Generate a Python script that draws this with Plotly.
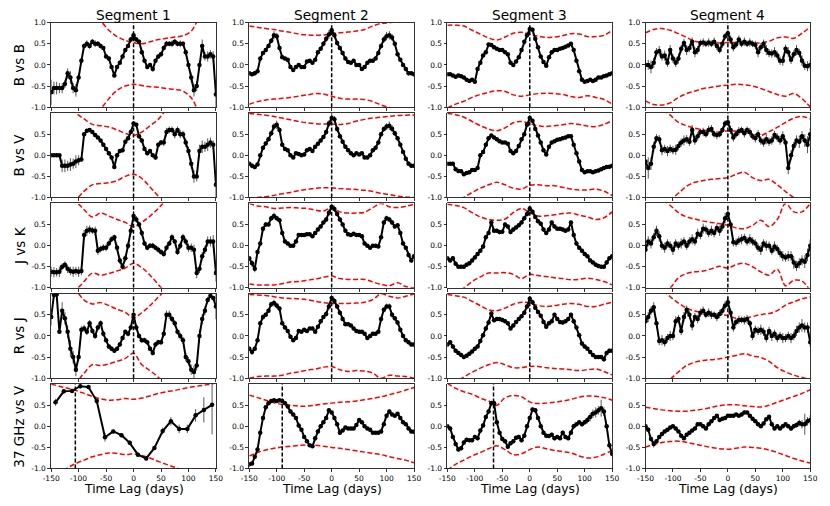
import plotly.graph_objects as go

# ---------------- data ----------------
LAGS = list(range(-150, 151, 5))
LAGS_37GHZ_S1 = [-142, -127, -112, -97, -82, -67, -52, -37, -22, -7,
                 8, 23, 38, 53, 68, 83, 98, 113, 128, 143]
BAND_LAGS = list(range(-150, 151, 15))

SEGMENTS = ["Segment 1", "Segment 2", "Segment 3", "Segment 4"]
PAIRS = ["B vs B", "B vs V", "J vs K", "R vs J", "37 GHz vs V"]
X_TICKS = [-150, -100, -50, 0, 50, 100, 150]
X_TICK_LABELS = ["-150", "-100", "-50", "0", "50", "100", "150"]
Y_TICKS = [-1.0, -0.5, 0.0, 0.5, 1.0]
Y_TICK_LABELS = ["-1.0", "-0.5", "0.0", "0.5", "1.0"]
PEAK_LAGS = [[0, 0, 0, 0], [0, 0, 0, 0], [0, 0, 0, 0], [0, 0, 0, 0], [-106, -90, -66, None]]

# ---- Segment 1 ----
BB_S1 = [-0.65, -0.55, -0.55, -0.55, -0.55, -0.45, -0.2, -0.3, -0.55, -0.6,
         -0.3, 0.1, 0.45, 0.5, 0.45, 0.55, 0.5, 0.5, 0.45, 0.4,
         0.2, 0.15, -0.05, -0.25, -0.05, 0.05, 0.2, 0.35, 0.45, 0.6,
         0.7, 0.6, 0.55, 0.3, 0.1, -0.05, 0.0, -0.1, 0.1, 0.2,
         0.25, 0.4, 0.5, 0.5, 0.5, 0.55, 0.5, 0.5, 0.5, 0.3,
         0.0, -0.3, -0.6, -0.5, 0.0, 0.45, 0.2, 0.2, 0.25, 0.2,
         -0.7]
BB_S1_ERR = [0.3, 0.15, 0.15, 0.12, 0.12, 0.1, 0.12, 0.15, 0.12, 0.15,
             0.1, 0.06, 0.06, 0.08, 0.07, 0.06, 0.08, 0.06, 0.06, 0.05,
             0.05, 0.06, 0.05, 0.05, 0.05, 0.04, 0.05, 0.05, 0.05, 0.06,
             0.08, 0.06, 0.05, 0.05, 0.05, 0.05, 0.05, 0.06, 0.05, 0.05,
             0.06, 0.06, 0.07, 0.06, 0.08, 0.07, 0.06, 0.08, 0.06, 0.07,
             0.1, 0.12, 0.15, 0.12, 0.1, 0.15, 0.1, 0.12, 0.1, 0.12,
             0.35]
BB_S1_UP = [2.0, 1.8, 1.6, 1.4, 1.25, 1.12, 1.03, 0.82, 0.67, 0.58, 0.53,
            0.5, 0.55, 0.6, 0.63, 0.66, 0.69, 0.8, 1.15, 1.5, 1.8]
BB_S1_LO = [-2.0, -1.8, -1.6, -1.4, -1.25, -1.12, -1.03, -0.8, -0.6, -0.5, -0.46,
            -0.49, -0.52, -0.53, -0.56, -0.58, -0.62, -0.78, -1.15, -1.5, -1.8]

BV_S1 = [0.0, 0.0, 0.0, 0.0, -0.25, -0.25, -0.25, -0.22, -0.2, -0.15,
         -0.12, -0.1, 0.5, 0.58, 0.6, 0.55, 0.48, 0.42, 0.35, 0.25,
         0.15, 0.05, -0.05, -0.28, 0.0, 0.1, 0.12, 0.32, 0.4, 0.55,
         0.75, 0.72, 0.45, 0.35, 0.15, 0.05, 0.1, 0.0, -0.05, 0.25,
         0.3, 0.3, 0.55, 0.6, 0.6, 0.5, 0.6, 0.5, 0.5, 0.3,
         0.1, -0.2, -0.5, -0.5, 0.1, 0.2, 0.2, 0.25, 0.3, 0.25,
         -0.7]
BV_S1_ERR = [0.03, 0.03, 0.03, 0.03, 0.15, 0.15, 0.12, 0.15, 0.12, 0.15,
             0.12, 0.05, 0.05, 0.04, 0.04, 0.05, 0.04, 0.04, 0.04, 0.05,
             0.05, 0.05, 0.05, 0.04, 0.05, 0.05, 0.05, 0.05, 0.05, 0.06,
             0.06, 0.05, 0.05, 0.05, 0.05, 0.05, 0.05, 0.05, 0.05, 0.05,
             0.06, 0.08, 0.1, 0.08, 0.08, 0.1, 0.08, 0.1, 0.08, 0.1,
             0.1, 0.12, 0.15, 0.12, 0.15, 0.15, 0.12, 0.15, 0.12, 0.1,
             0.3]
BV_S1_UP = [1.6, 1.4, 1.2, 1.0, 0.86, 0.73, 0.7, 0.67, 0.6, 0.52, 0.47,
            0.55, 0.7, 0.85, 1.1, 1.4, 1.7, 2.0, 2.2, 2.4, 2.6]
BV_S1_LO = [-1.6, -1.4, -1.2, -1.05, -0.85, -0.7, -0.67, -0.65, -0.6, -0.5, -0.45,
            -0.55, -0.75, -0.97, -1.2, -1.45, -1.7, -2.0, -2.2, -2.4, -2.6]

JK_S1 = [-0.62, -0.63, -0.63, -0.62, -0.5, -0.45, -0.55, -0.6, -0.62, -0.6,
         -0.62, -0.6, 0.25, 0.35, 0.38, 0.36, 0.35, -0.12, -0.08, -0.05,
         -0.05, 0.05, 0.15, 0.2, -0.05, -0.35, -0.5, -0.3, 0.0, 0.35,
         0.7, 0.62, 0.5, 0.3, 0.05, -0.05, 0.0, 0.0, -0.05, -0.1,
         -0.15, -0.2, -0.05, 0.05, 0.2, 0.1, -0.15, 0.0, 0.2, 0.1,
         -0.05, -0.05, -0.1, -0.65, -0.55, -0.25, -0.1, 0.1, 0.1, 0.1,
         -0.65]
JK_S1_ERR = [0.12, 0.12, 0.1, 0.12, 0.08, 0.08, 0.1, 0.1, 0.12, 0.1,
             0.12, 0.1, 0.12, 0.12, 0.1, 0.08, 0.1, 0.1, 0.08, 0.08,
             0.08, 0.07, 0.07, 0.06, 0.08, 0.08, 0.07, 0.08, 0.08, 0.1,
             0.12, 0.08, 0.07, 0.07, 0.06, 0.06, 0.06, 0.07, 0.06, 0.07,
             0.06, 0.06, 0.07, 0.06, 0.07, 0.06, 0.07, 0.08, 0.08, 0.08,
             0.1, 0.1, 0.12, 0.12, 0.1, 0.1, 0.1, 0.12, 0.12, 0.15,
             0.2]
JK_S1_UP = [1.6, 1.4, 1.2, 1.05, 0.85, 0.68, 0.77, 0.7, 0.62, 0.55, 0.45,
            0.55, 0.7, 0.88, 1.1, 1.4, 1.7, 2.0, 2.2, 2.4, 2.6]
JK_S1_LO = [-1.6, -1.4, -1.2, -1.05, -0.85, -0.65, -0.7, -0.66, -0.6, -0.53, -0.42,
            -0.52, -0.7, -0.92, -1.15, -1.4, -1.7, -2.0, -2.2, -2.4, -2.6]

RJ_S1 = [0.45, 0.97, 0.98, 0.1, 0.6, 0.42, 0.1, -0.3, -0.5, -0.8,
         -0.5, 0.15, 0.18, 0.1, 0.3, 0.12, 0.0, 0.2, 0.3, 0.05,
         -0.1, -0.25, -0.3, -0.35, -0.3, -0.2, -0.05, 0.1, 0.05, 0.2,
         0.5, 0.2, 0.0, -0.1, -0.1, -0.15, -0.3, -0.4, -0.2, -0.15,
         -0.15, 0.05, 0.5, 0.5, 0.4, 0.3, 0.1, 0.0, -0.1, -0.5,
         -0.6, -0.8, -0.85, -0.7, 0.0, 0.4, 0.6, 0.85, 0.95, 0.9,
         0.7]
RJ_S1_ERR = [0.2, 0.1, 0.05, 0.05, 0.2, 0.15, 0.15, 0.2, 0.15, 0.15,
             0.1, 0.08, 0.08, 0.08, 0.08, 0.07, 0.07, 0.07, 0.07, 0.06,
             0.06, 0.06, 0.06, 0.05, 0.05, 0.05, 0.05, 0.05, 0.06, 0.06,
             0.08, 0.07, 0.06, 0.06, 0.06, 0.06, 0.06, 0.06, 0.06, 0.06,
             0.06, 0.08, 0.1, 0.1, 0.08, 0.08, 0.07, 0.08, 0.08, 0.1,
             0.1, 0.12, 0.15, 0.12, 0.15, 0.12, 0.1, 0.08, 0.05, 0.05,
             0.3]
RJ_S1_UP = [1.6, 1.4, 1.2, 1.08, 0.85, 0.76, 0.79, 0.72, 0.63, 0.56, 0.43,
            0.55, 0.72, 0.92, 1.12, 1.4, 1.7, 2.0, 2.2, 2.4, 2.6]
RJ_S1_LO = [-1.6, -1.4, -1.25, -1.1, -0.88, -0.68, -0.7, -0.66, -0.6, -0.53, -0.41,
            -0.68, -0.82, -0.98, -1.2, -1.45, -1.7, -2.0, -2.2, -2.4, -2.6]

GHZ37_S1 = [0.57, 0.83, 0.84, 0.95, 0.93, 0.6, -0.26, -0.12, -0.21, -0.39,
            -0.67, -0.76, -0.51, -0.11, 0.12, -0.06, -0.06, 0.26, 0.39, 0.51]
GHZ37_S1_ERR = [0.08, 0.05, 0.05, 0.05, 0.05, 0.05, 0.1, 0.05, 0.05, 0.05,
                0.05, 0.05, 0.05, 0.08, 0.1, 0.1, 0.1, 0.15, 0.3, 0.7]
GHZ37_S1_UP = [1.0, 0.95, 0.9, 0.85, 0.78, 0.71, 0.65, 0.62, 0.63, 0.66, 0.64,
               0.67, 0.72, 0.78, 0.82, 0.85, 0.89, 0.93, 0.96, 0.99, 1.03]
GHZ37_S1_LO = [-1.25, -1.12, -0.98, -0.88, -0.8, -0.72, -0.67, -0.63, -0.64, -0.67, -0.65,
               -0.69, -0.75, -0.83, -0.9, -0.97, -1.05, -1.12, -1.2, -1.28, -1.35]

# ---- Segment 2 ----
BB_S2 = [-0.2, -0.22, -0.2, -0.15, 0.15, 0.28, 0.35, 0.45, 0.57, 0.7,
         0.68, 0.4, 0.18, 0.15, 0.12, -0.05, -0.12, -0.05, 0.0, -0.05,
         -0.05, 0.08, 0.1, 0.05, 0.12, 0.3, 0.38, 0.5, 0.62, 0.72,
         0.82, 0.7, 0.52, 0.4, 0.28, 0.15, 0.07, 0.05, 0.1, 0.0,
         0.0, -0.1, -0.05, 0.05, 0.1, 0.1, 0.15, 0.28, 0.45, 0.6,
         0.68, 0.7, 0.65, 0.5, 0.25, 0.12, 0.0, -0.1, -0.2, -0.2,
         -0.22]
BB_S2_ERR = [0.05, 0.05, 0.05, 0.04, 0.04, 0.04, 0.05, 0.05, 0.06, 0.1,
             0.08, 0.05, 0.04, 0.04, 0.04, 0.04, 0.04, 0.04, 0.04, 0.04,
             0.04, 0.04, 0.04, 0.04, 0.04, 0.05, 0.05, 0.06, 0.08, 0.1,
             0.1, 0.08, 0.06, 0.05, 0.04, 0.04, 0.04, 0.04, 0.04, 0.04,
             0.04, 0.04, 0.04, 0.04, 0.04, 0.04, 0.04, 0.05, 0.06, 0.08,
             0.1, 0.1, 0.08, 0.05, 0.04, 0.04, 0.04, 0.05, 0.05, 0.05,
             0.05]
BB_S2_UP = [0.92, 0.89, 0.86, 0.84, 0.8, 0.77, 0.73, 0.71, 0.7, 0.71, 0.74,
            0.76, 0.78, 0.8, 0.84, 0.92, 0.98, 1.0, 1.02, 1.02, 1.02]
BB_S2_LO = [-0.93, -0.87, -0.83, -0.81, -0.79, -0.77, -0.74, -0.71, -0.68, -0.69, -0.74,
            -0.79, -0.81, -0.81, -0.82, -0.87, -0.95, -1.01, -1.06, -1.1, -1.15]

BV_S2 = [-0.2, -0.25, -0.28, -0.22, 0.0, 0.18, 0.28, 0.38, 0.52, 0.68,
         0.72, 0.6, 0.25, 0.15, 0.12, 0.0, -0.05, 0.05, 0.03, 0.0,
         0.02, 0.12, 0.15, 0.1, 0.2, 0.27, 0.35, 0.43, 0.55, 0.75,
         0.88, 0.85, 0.62, 0.45, 0.32, 0.2, 0.12, 0.05, 0.0, 0.05,
         0.02, 0.05, -0.05, -0.05, 0.0, 0.12, 0.18, 0.3, 0.5, 0.62,
         0.68, 0.7, 0.63, 0.52, 0.4, 0.25, 0.08, -0.08, -0.2, -0.25,
         -0.25]
BV_S2_ERR = [0.05, 0.06, 0.05, 0.04, 0.04, 0.04, 0.05, 0.05, 0.06, 0.08,
             0.1, 0.06, 0.04, 0.04, 0.04, 0.04, 0.04, 0.04, 0.04, 0.04,
             0.04, 0.04, 0.04, 0.04, 0.04, 0.04, 0.05, 0.05, 0.06, 0.08,
             0.1, 0.08, 0.06, 0.05, 0.04, 0.04, 0.04, 0.04, 0.04, 0.04,
             0.04, 0.04, 0.04, 0.04, 0.04, 0.04, 0.04, 0.04, 0.05, 0.06,
             0.08, 0.1, 0.08, 0.06, 0.05, 0.04, 0.04, 0.05, 0.05, 0.05,
             0.05]
BV_S2_UP = [0.99, 0.97, 0.95, 0.92, 0.88, 0.84, 0.8, 0.77, 0.75, 0.74, 0.74,
            0.73, 0.75, 0.81, 0.85, 0.88, 0.9, 0.92, 0.94, 0.95, 0.95]
BV_S2_LO = [-1.01, -1.0, -0.98, -0.95, -0.91, -0.88, -0.84, -0.81, -0.78, -0.77, -0.77,
            -0.79, -0.8, -0.81, -0.83, -0.86, -0.9, -0.93, -0.97, -0.99, -1.0]

JK_S2 = [-0.3, -0.42, -0.55, -0.15, 0.05, 0.4, 0.5, 0.5, 0.65, 0.7,
         0.65, 0.6, 0.3, 0.1, 0.05, 0.0, 0.0, 0.1, 0.25, 0.25,
         0.25, 0.27, 0.27, 0.22, 0.3, 0.38, 0.45, 0.55, 0.62, 0.78,
         0.92, 0.87, 0.75, 0.62, 0.5, 0.35, 0.27, 0.25, 0.28, 0.25,
         0.25, 0.22, 0.05, 0.0, -0.05, 0.0, 0.0, -0.02, 0.2, 0.55,
         0.65, 0.62, 0.55, 0.45, 0.48, 0.3, 0.05, -0.05, -0.22, -0.35,
         -0.25]
JK_S2_ERR = [0.06, 0.08, 0.08, 0.06, 0.05, 0.06, 0.06, 0.05, 0.06, 0.08,
             0.06, 0.06, 0.05, 0.04, 0.04, 0.04, 0.04, 0.04, 0.04, 0.04,
             0.04, 0.04, 0.04, 0.04, 0.04, 0.04, 0.05, 0.05, 0.06, 0.08,
             0.08, 0.08, 0.06, 0.05, 0.04, 0.04, 0.04, 0.04, 0.04, 0.04,
             0.04, 0.04, 0.04, 0.04, 0.04, 0.04, 0.04, 0.04, 0.05, 0.06,
             0.06, 0.06, 0.06, 0.05, 0.05, 0.05, 0.04, 0.04, 0.06, 0.06,
             0.06]
JK_S2_UP = [1.0, 0.94, 0.92, 0.88, 0.89, 0.9, 0.89, 0.88, 0.84, 0.82, 0.9,
            0.8, 0.77, 0.77, 0.79, 0.9, 1.0, 0.92, 0.9, 0.93, 0.98]
JK_S2_LO = [-0.91, -0.93, -0.93, -0.93, -0.9, -0.86, -0.85, -0.82, -0.79, -0.75, -0.72,
            -0.78, -0.8, -0.8, -0.8, -0.86, -0.92, -0.95, -0.88, -0.97, -1.0]

RJ_S2 = [-0.3, -0.38, -0.3, -0.1, 0.3, 0.45, 0.5, 0.6, 0.75, 0.78,
         0.72, 0.65, 0.3, 0.2, 0.12, -0.02, -0.1, -0.05, 0.12, 0.1,
         0.15, 0.12, 0.18, 0.18, 0.1, 0.22, 0.35, 0.45, 0.52, 0.7,
         0.9, 0.83, 0.7, 0.55, 0.4, 0.28, 0.28, 0.25, 0.18, 0.12,
         0.1, 0.1, 0.05, -0.05, 0.0, 0.05, 0.05, 0.1, 0.4, 0.62,
         0.7, 0.7, 0.5, 0.42, 0.32, 0.15, 0.0, -0.1, -0.15, -0.2,
         -0.2]
RJ_S2_ERR = [0.06, 0.07, 0.06, 0.05, 0.05, 0.06, 0.05, 0.05, 0.06, 0.08,
             0.07, 0.06, 0.05, 0.04, 0.04, 0.04, 0.04, 0.04, 0.04, 0.04,
             0.04, 0.04, 0.04, 0.04, 0.04, 0.04, 0.05, 0.05, 0.06, 0.08,
             0.08, 0.07, 0.06, 0.05, 0.04, 0.04, 0.04, 0.04, 0.04, 0.04,
             0.04, 0.04, 0.04, 0.04, 0.04, 0.04, 0.04, 0.05, 0.05, 0.06,
             0.07, 0.07, 0.06, 0.05, 0.05, 0.05, 0.04, 0.04, 0.05, 0.05,
             0.06]
RJ_S2_UP = [0.98, 0.97, 0.96, 0.93, 0.9, 0.89, 0.88, 0.86, 0.82, 0.79, 0.77,
            0.77, 0.77, 0.78, 0.8, 0.86, 1.0, 0.94, 0.9, 0.94, 1.0]
RJ_S2_LO = [-1.0, -0.96, -0.95, -0.95, -0.93, -0.88, -0.85, -0.81, -0.78, -0.74, -0.72,
            -0.8, -0.84, -0.82, -0.83, -0.88, -1.0, -0.93, -0.95, -0.96, -1.0]

GHZ37_S2 = [-0.9, -0.88, -0.72, -0.55, -0.15, 0.2, 0.45, 0.55, 0.6, 0.62,
            0.6, 0.62, 0.6, 0.55, 0.47, 0.35, 0.28, 0.2, 0.02, -0.08,
            -0.25, -0.35, -0.45, -0.47, -0.28, -0.12, 0.0, 0.1, 0.2, 0.38,
            0.33, 0.2, 0.05, -0.15, -0.1, -0.03, -0.05, -0.05, -0.05, 0.03,
            0.15, 0.1, 0.0, -0.05, -0.08, -0.15, -0.15, -0.15, -0.12, 0.05,
            0.25, 0.35, 0.28, 0.25, 0.3, 0.2, 0.1, 0.05, -0.05, -0.12,
            -0.13]
GHZ37_S2_ERR = [0.06, 0.05, 0.05, 0.05, 0.04, 0.04, 0.04, 0.04, 0.04, 0.04,
                0.04, 0.04, 0.04, 0.04, 0.04, 0.04, 0.04, 0.04, 0.04, 0.04,
                0.04, 0.04, 0.04, 0.04, 0.04, 0.04, 0.04, 0.04, 0.04, 0.05,
                0.05, 0.04, 0.04, 0.04, 0.04, 0.04, 0.04, 0.04, 0.04, 0.04,
                0.04, 0.04, 0.04, 0.04, 0.04, 0.04, 0.04, 0.04, 0.04, 0.04,
                0.05, 0.05, 0.04, 0.04, 0.04, 0.04, 0.04, 0.04, 0.04, 0.05,
                0.05]
GHZ37_S2_UP = [0.74, 0.68, 0.62, 0.56, 0.52, 0.5, 0.48, 0.48, 0.5, 0.53, 0.55,
               0.57, 0.58, 0.6, 0.63, 0.66, 0.7, 0.75, 0.8, 0.86, 0.92]
GHZ37_S2_LO = [-0.7, -0.62, -0.56, -0.52, -0.49, -0.47, -0.45, -0.44, -0.45, -0.47, -0.5,
               -0.52, -0.55, -0.58, -0.61, -0.64, -0.67, -0.72, -0.76, -0.8, -0.86]

# ---- Segment 3 ----
BB_S3 = [-0.22, -0.22, -0.25, -0.28, -0.25, -0.27, -0.3, -0.35, -0.38, -0.35,
         -0.4, -0.1, 0.05, 0.22, 0.3, 0.48, 0.47, 0.42, 0.38, 0.35,
         0.35, 0.3, 0.25, 0.05, 0.0, 0.08, 0.18, 0.35, 0.55, 0.7,
         0.85, 0.83, 0.62, 0.42, 0.2, 0.07, -0.02, 0.18, 0.3, 0.35,
         0.35, 0.38, 0.4, 0.43, 0.46, 0.5, 0.35, 0.1, -0.15, -0.35,
         -0.4, -0.38, -0.35, -0.38, -0.35, -0.3, -0.3, -0.27, -0.25, -0.22,
         -0.2]
BB_S3_ERR = [0.03, 0.03, 0.03, 0.03, 0.03, 0.03, 0.03, 0.03, 0.03, 0.03,
             0.03, 0.03, 0.03, 0.03, 0.03, 0.04, 0.03, 0.03, 0.03, 0.03,
             0.03, 0.03, 0.03, 0.03, 0.03, 0.03, 0.03, 0.03, 0.04, 0.05,
             0.06, 0.05, 0.04, 0.03, 0.03, 0.03, 0.03, 0.03, 0.03, 0.03,
             0.03, 0.03, 0.03, 0.03, 0.03, 0.04, 0.03, 0.03, 0.03, 0.03,
             0.03, 0.03, 0.03, 0.03, 0.03, 0.03, 0.03, 0.03, 0.03, 0.03,
             0.03]
BB_S3_UP = [0.94, 0.94, 0.92, 0.82, 0.73, 0.64, 0.59, 0.66, 0.75, 0.77, 0.73,
            0.68, 0.65, 0.66, 0.69, 0.74, 0.73, 0.67, 0.67, 0.7, 0.82]
BB_S3_LO = [-1.02, -0.93, -0.86, -0.77, -0.7, -0.65, -0.61, -0.63, -0.71, -0.74, -0.71,
            -0.68, -0.67, -0.68, -0.7, -0.75, -0.77, -0.73, -0.77, -0.82, -0.93]

BV_S3 = [-0.2, -0.2, -0.2, -0.33, -0.37, -0.38, -0.45, -0.42, -0.4, -0.35,
         -0.35, -0.3, 0.0, 0.08, 0.25, 0.4, 0.47, 0.42, 0.38, 0.33,
         0.3, 0.3, 0.27, 0.1, 0.05, 0.1, 0.22, 0.38, 0.5, 0.72,
         0.88, 0.82, 0.62, 0.47, 0.3, 0.12, 0.02, 0.2, 0.3, 0.33,
         0.37, 0.38, 0.4, 0.42, 0.45, 0.45, 0.25, 0.05, -0.15, -0.35,
         -0.4, -0.38, -0.38, -0.4, -0.38, -0.36, -0.33, -0.3, -0.28, -0.27,
         -0.25]
BV_S3_ERR = [0.03, 0.03, 0.03, 0.03, 0.03, 0.03, 0.03, 0.03, 0.03, 0.03,
             0.03, 0.03, 0.03, 0.03, 0.03, 0.04, 0.03, 0.03, 0.03, 0.03,
             0.03, 0.03, 0.03, 0.03, 0.03, 0.03, 0.03, 0.03, 0.04, 0.05,
             0.06, 0.05, 0.04, 0.03, 0.03, 0.03, 0.03, 0.03, 0.03, 0.03,
             0.03, 0.03, 0.03, 0.03, 0.03, 0.04, 0.03, 0.03, 0.03, 0.03,
             0.03, 0.03, 0.03, 0.03, 0.03, 0.03, 0.03, 0.03, 0.03, 0.03,
             0.03]
BV_S3_UP = [0.99, 0.96, 0.9, 0.8, 0.7, 0.62, 0.58, 0.65, 0.77, 0.8, 0.75,
            0.7, 0.68, 0.7, 0.72, 0.75, 0.73, 0.69, 0.68, 0.73, 0.82]
BV_S3_LO = [-1.2, -1.1, -1.0, -0.88, -0.78, -0.7, -0.64, -0.7, -0.78, -0.8, -0.71,
            -0.7, -0.72, -0.72, -0.76, -0.8, -0.82, -0.82, -0.8, -0.85, -0.95]

JK_S3 = [-0.3, -0.35, -0.3, -0.43, -0.5, -0.5, -0.5, -0.45, -0.42, -0.35,
         -0.28, -0.2, -0.12, -0.02, 0.2, 0.3, 0.55, 0.35, 0.35, 0.32,
         0.33, 0.5, 0.45, 0.32, 0.38, 0.43, 0.48, 0.55, 0.65, 0.75,
         0.88, 0.8, 0.68, 0.58, 0.52, 0.38, 0.3, 0.38, 0.55, 0.45,
         0.4, 0.4, 0.38, 0.35, 0.38, 0.55, 0.25, 0.05, -0.05, -0.12,
         -0.2, -0.25, -0.35, -0.4, -0.45, -0.48, -0.5, -0.5, -0.4, -0.3,
         -0.25]
JK_S3_ERR = [0.05, 0.05, 0.05, 0.05, 0.05, 0.05, 0.05, 0.05, 0.05, 0.05,
             0.05, 0.05, 0.05, 0.05, 0.05, 0.05, 0.06, 0.05, 0.05, 0.05,
             0.05, 0.05, 0.05, 0.05, 0.05, 0.05, 0.05, 0.05, 0.05, 0.06,
             0.06, 0.06, 0.05, 0.05, 0.05, 0.05, 0.05, 0.05, 0.05, 0.05,
             0.05, 0.05, 0.05, 0.05, 0.05, 0.05, 0.05, 0.05, 0.05, 0.05,
             0.05, 0.05, 0.05, 0.05, 0.05, 0.05, 0.05, 0.05, 0.05, 0.05,
             0.05]
JK_S3_UP = [0.98, 0.95, 0.9, 0.78, 0.68, 0.62, 0.6, 0.63, 0.78, 0.88, 0.78,
            0.7, 0.71, 0.73, 0.76, 0.77, 0.72, 0.68, 0.62, 0.66, 0.8]
JK_S3_LO = [-1.2, -1.1, -1.0, -0.85, -0.74, -0.65, -0.65, -0.64, -0.68, -0.78, -0.68,
            -0.71, -0.73, -0.76, -0.78, -0.81, -0.8, -0.77, -0.8, -0.85, -0.93]

RJ_S3 = [-0.2, -0.15, -0.25, -0.35, -0.4, -0.45, -0.5, -0.47, -0.42, -0.37,
         -0.3, -0.25, -0.12, 0.02, 0.18, 0.32, 0.53, 0.37, 0.4, 0.4,
         0.38, 0.35, 0.3, 0.18, 0.25, 0.33, 0.4, 0.47, 0.55, 0.7,
         0.88, 0.8, 0.67, 0.57, 0.48, 0.33, 0.22, 0.3, 0.35, 0.5,
         0.4, 0.33, 0.32, 0.35, 0.4, 0.5, 0.35, 0.2, 0.02, -0.18,
         -0.25, -0.3, -0.38, -0.45, -0.5, -0.5, -0.5, -0.55, -0.4, -0.35,
         -0.35]
RJ_S3_ERR = [0.05, 0.05, 0.05, 0.05, 0.05, 0.05, 0.05, 0.05, 0.05, 0.05,
             0.05, 0.05, 0.05, 0.05, 0.05, 0.05, 0.06, 0.05, 0.05, 0.05,
             0.05, 0.05, 0.05, 0.05, 0.05, 0.05, 0.05, 0.05, 0.05, 0.06,
             0.06, 0.06, 0.05, 0.05, 0.05, 0.05, 0.05, 0.05, 0.05, 0.05,
             0.05, 0.05, 0.05, 0.05, 0.05, 0.05, 0.05, 0.05, 0.05, 0.05,
             0.05, 0.05, 0.05, 0.05, 0.05, 0.05, 0.05, 0.06, 0.05, 0.05,
             0.05]
RJ_S3_UP = [0.98, 0.95, 0.92, 0.82, 0.72, 0.62, 0.6, 0.66, 0.75, 0.8, 0.78,
            0.72, 0.7, 0.72, 0.75, 0.77, 0.75, 0.7, 0.7, 0.75, 0.8]
RJ_S3_LO = [-1.25, -1.1, -0.97, -0.86, -0.76, -0.68, -0.63, -0.68, -0.75, -0.75, -0.72,
            -0.72, -0.75, -0.77, -0.78, -0.8, -0.82, -0.8, -0.78, -0.84, -0.92]

GHZ37_S3 = [0.0, -0.05, -0.25, -0.42, -0.55, -0.52, -0.38, -0.32, -0.33, -0.33,
            -0.25, -0.28, -0.1, 0.02, 0.22, 0.35, 0.55, 0.55, 0.1, -0.15,
            -0.3, -0.35, -0.48, -0.4, -0.35, -0.27, -0.25, -0.33, -0.22, 0.0,
            0.2, 0.4, 0.38, 0.2, 0.0, -0.15, -0.22, -0.23, -0.2, -0.28,
            -0.25, -0.28, -0.15, -0.25, -0.28, -0.15, 0.0, 0.05, 0.1, 0.05,
            0.1, 0.15, 0.22, 0.3, 0.33, 0.38, 0.43, 0.35, 0.0, -0.45,
            -0.65]
GHZ37_S3_ERR = [0.05, 0.05, 0.05, 0.05, 0.05, 0.05, 0.05, 0.05, 0.05, 0.05,
                0.05, 0.05, 0.05, 0.05, 0.05, 0.05, 0.06, 0.06, 0.05, 0.05,
                0.05, 0.05, 0.05, 0.05, 0.05, 0.05, 0.05, 0.05, 0.05, 0.05,
                0.05, 0.05, 0.05, 0.05, 0.05, 0.05, 0.05, 0.05, 0.05, 0.05,
                0.05, 0.05, 0.05, 0.05, 0.05, 0.05, 0.05, 0.05, 0.05, 0.05,
                0.06, 0.08, 0.1, 0.1, 0.12, 0.1, 0.2, 0.1, 0.06, 0.06,
                0.06]
GHZ37_S3_UP = [1.02, 0.9, 0.82, 0.76, 0.67, 0.6, 0.5, 0.68, 0.73, 0.7, 0.58,
               0.54, 0.55, 0.57, 0.6, 0.64, 0.69, 0.72, 0.71, 0.68, 0.62]
GHZ37_S3_LO = [-1.04, -0.9, -0.8, -0.7, -0.62, -0.53, -0.46, -0.55, -0.67, -0.65, -0.55,
               -0.49, -0.53, -0.57, -0.6, -0.63, -0.7, -0.75, -0.73, -0.66, -0.57]

# ---- Segment 4 ----
BB_S4 = [0.0, 0.0, -0.05, 0.05, 0.3, 0.33, 0.2, 0.22, 0.05, 0.35,
         0.15, 0.05, 0.15, 0.38, 0.52, 0.35, 0.4, 0.55, 0.3, 0.35,
         0.52, 0.53, 0.5, 0.53, 0.5, 0.55, 0.45, 0.35, 0.5, 0.68,
         0.75, 0.6, 0.42, 0.48, 0.6, 0.5, 0.55, 0.5, 0.53, 0.5,
         0.47, 0.3, 0.42, 0.5, 0.35, 0.28, 0.27, 0.3, 0.22, 0.1,
         0.1, 0.38, 0.3, 0.12, 0.25, 0.35, 0.28, 0.1, -0.02, -0.03,
         0.0]
BB_S4_ERR = [0.12, 0.12, 0.15, 0.12, 0.1, 0.12, 0.1, 0.12, 0.1, 0.12,
             0.1, 0.1, 0.12, 0.1, 0.1, 0.12, 0.1, 0.1, 0.12, 0.1,
             0.08, 0.1, 0.08, 0.1, 0.08, 0.1, 0.1, 0.08, 0.1, 0.08,
             0.08, 0.1, 0.1, 0.08, 0.1, 0.08, 0.1, 0.08, 0.1, 0.08,
             0.1, 0.12, 0.1, 0.1, 0.12, 0.1, 0.1, 0.12, 0.1, 0.1,
             0.12, 0.1, 0.12, 0.1, 0.1, 0.12, 0.1, 0.12, 0.1, 0.12,
             0.12]
BB_S4_UP = [0.76, 0.84, 0.86, 0.82, 0.74, 0.65, 0.56, 0.53, 0.51, 0.52, 0.53,
            0.53, 0.53, 0.52, 0.52, 0.56, 0.64, 0.66, 0.63, 0.75, 0.9]
BB_S4_LO = [-0.85, -0.94, -0.95, -0.9, -0.77, -0.68, -0.62, -0.56, -0.53, -0.5, -0.48,
            -0.46, -0.47, -0.5, -0.56, -0.63, -0.7, -0.74, -0.68, -0.8, -1.0]

BV_S4 = [-0.15, -0.3, -0.2, 0.2, 0.4, 0.38, 0.12, 0.15, 0.1, 0.15,
         0.12, 0.13, 0.22, 0.3, 0.35, 0.38, 0.32, 0.6, 0.35, 0.45,
         0.55, 0.55, 0.5, 0.6, 0.62, 0.5, 0.48, 0.5, 0.6, 0.75,
         0.78, 0.6, 0.42, 0.5, 0.57, 0.6, 0.52, 0.6, 0.55, 0.45,
         0.4, 0.5, 0.35, 0.3, 0.38, 0.32, 0.35, 0.48, 0.42, 0.35,
         0.45, 0.3, -0.3, 0.0, 0.22, 0.35, 0.32, 0.45, 0.35, 0.25,
         0.5]
BV_S4_ERR = [0.15, 0.25, 0.15, 0.12, 0.1, 0.1, 0.12, 0.1, 0.12, 0.1,
             0.1, 0.12, 0.1, 0.1, 0.12, 0.1, 0.1, 0.12, 0.1, 0.1,
             0.08, 0.1, 0.08, 0.1, 0.1, 0.08, 0.1, 0.08, 0.08, 0.08,
             0.08, 0.1, 0.1, 0.08, 0.1, 0.08, 0.1, 0.08, 0.1, 0.08,
             0.1, 0.1, 0.1, 0.1, 0.12, 0.1, 0.1, 0.1, 0.1, 0.1,
             0.12, 0.1, 0.15, 0.12, 0.1, 0.12, 0.15, 0.12, 0.15, 0.2,
             0.15]
BV_S4_UP = [1.4, 1.25, 1.1, 0.95, 0.78, 0.7, 0.64, 0.6, 0.57, 0.55, 0.58,
            0.57, 0.54, 0.51, 0.47, 0.56, 0.66, 0.78, 0.88, 0.92, 0.86]
BV_S4_LO = [-1.5, -1.35, -1.2, -1.05, -0.9, -0.73, -0.64, -0.6, -0.57, -0.55, -0.53,
            -0.45, -0.4, -0.53, -0.6, -0.57, -0.7, -0.86, -1.0, -1.12, -1.25]

JK_S4 = [-0.1, 0.1, 0.05, 0.2, 0.35, 0.22, 0.0, -0.05, 0.05, 0.0,
         -0.1, 0.05, 0.0, 0.05, 0.1, 0.0, 0.1, 0.15, 0.1, 0.28,
         0.25, 0.4, 0.38, 0.3, 0.35, 0.3, 0.42, 0.35, 0.45, 0.65,
         0.75, 0.5, 0.08, 0.07, 0.12, 0.15, 0.18, 0.1, 0.15, 0.1,
         0.05, -0.05, -0.1, 0.05, 0.0, 0.0, -0.12, -0.02, -0.08, -0.18,
         -0.25, -0.28, -0.25, -0.25, -0.4, -0.48, -0.42, -0.35, -0.38, -0.22,
         0.0]
JK_S4_ERR = [0.2, 0.12, 0.12, 0.1, 0.12, 0.12, 0.1, 0.12, 0.1, 0.1,
             0.12, 0.1, 0.1, 0.12, 0.1, 0.1, 0.1, 0.12, 0.1, 0.12,
             0.1, 0.12, 0.1, 0.1, 0.12, 0.1, 0.1, 0.12, 0.1, 0.12,
             0.12, 0.1, 0.1, 0.1, 0.1, 0.12, 0.1, 0.1, 0.12, 0.1,
             0.1, 0.1, 0.12, 0.1, 0.12, 0.1, 0.1, 0.12, 0.1, 0.1,
             0.12, 0.1, 0.12, 0.12, 0.15, 0.12, 0.12, 0.12, 0.15, 0.15,
             0.15]
JK_S4_UP = [1.4, 1.25, 1.1, 0.95, 0.78, 0.68, 0.63, 0.58, 0.55, 0.52, 0.48,
            0.42, 0.4, 0.48, 0.6, 0.45, 0.62, 1.0, 0.8, 0.8, 1.0]
JK_S4_LO = [-1.4, -1.25, -1.1, -1.0, -0.76, -0.66, -0.62, -0.6, -0.55, -0.49, -0.53,
            -0.45, -0.42, -0.5, -0.62, -0.7, -0.56, -0.95, -0.82, -0.84, -1.07]

RJ_S4 = [0.35, 0.45, 0.6, 0.68, 0.3, -0.12, -0.1, -0.15, -0.05, 0.0,
         0.0, 0.35, 0.4, 0.12, 0.45, 0.62, 0.5, 0.25, 0.45, 0.4,
         0.55, 0.6, 0.5, 0.55, 0.5, 0.5, 0.45, 0.52, 0.6, 0.72,
         0.8, 0.55, 0.2, 0.33, 0.38, 0.38, 0.37, 0.4, 0.3, 0.0,
         0.15, 0.12, 0.15, 0.1, -0.05, 0.12, 0.0, 0.05, -0.05, 0.0,
         -0.05, -0.05, 0.0, -0.05, 0.0, 0.12, 0.2, 0.25, 0.2, 0.2,
         -0.15]
RJ_S4_ERR = [0.12, 0.12, 0.1, 0.12, 0.12, 0.1, 0.12, 0.1, 0.1, 0.12,
             0.1, 0.12, 0.1, 0.1, 0.12, 0.1, 0.1, 0.12, 0.1, 0.1,
             0.1, 0.1, 0.08, 0.1, 0.1, 0.08, 0.1, 0.1, 0.1, 0.1,
             0.12, 0.1, 0.1, 0.08, 0.1, 0.08, 0.1, 0.1, 0.08, 0.1,
             0.1, 0.1, 0.12, 0.1, 0.1, 0.1, 0.12, 0.1, 0.1, 0.1,
             0.12, 0.1, 0.1, 0.12, 0.1, 0.12, 0.12, 0.15, 0.12, 0.12,
             0.12]
RJ_S4_UP = [1.4, 1.25, 1.1, 0.93, 0.78, 0.66, 0.59, 0.56, 0.53, 0.51, 0.48,
            0.42, 0.42, 0.46, 0.51, 0.53, 0.6, 0.73, 0.81, 0.88, 0.92]
RJ_S4_LO = [-1.4, -1.25, -1.12, -1.02, -0.85, -0.7, -0.62, -0.58, -0.56, -0.54, -0.5,
            -0.46, -0.42, -0.47, -0.51, -0.6, -0.75, -0.85, -0.93, -0.98, -1.03]

GHZ37_S4 = [0.0, -0.08, -0.3, -0.42, -0.35, -0.25, -0.18, -0.12, -0.08, -0.03,
            0.0, -0.05, -0.12, -0.22, -0.28, -0.2, -0.15, -0.1, -0.05, 0.05,
            0.05, 0.0, -0.05, 0.05, 0.12, 0.2, 0.25, 0.15, 0.18, 0.2,
            0.25, 0.25, 0.25, 0.28, 0.25, 0.28, 0.33, 0.33, 0.25, 0.18,
            0.12, 0.05, 0.0, 0.07, 0.17, 0.23, 0.05, -0.05, 0.0, -0.05,
            0.0, 0.05, 0.0, -0.05, 0.0, 0.03, 0.08, 0.05, 0.05, 0.12,
            0.15]
GHZ37_S4_ERR = [0.05, 0.06, 0.05, 0.08, 0.05, 0.04, 0.04, 0.04, 0.04, 0.04,
                0.04, 0.04, 0.04, 0.04, 0.04, 0.04, 0.04, 0.04, 0.04, 0.04,
                0.04, 0.04, 0.04, 0.04, 0.04, 0.04, 0.04, 0.04, 0.04, 0.04,
                0.04, 0.04, 0.04, 0.04, 0.04, 0.04, 0.04, 0.04, 0.04, 0.04,
                0.04, 0.04, 0.04, 0.04, 0.04, 0.04, 0.04, 0.04, 0.04, 0.04,
                0.04, 0.04, 0.04, 0.05, 0.05, 0.06, 0.08, 0.1, 0.25, 0.1,
                0.12]
GHZ37_S4_UP = [0.45, 0.42, 0.39, 0.37, 0.36, 0.36, 0.38, 0.41, 0.45, 0.49, 0.51,
               0.51, 0.49, 0.47, 0.46, 0.5, 0.57, 0.64, 0.71, 0.78, 0.87]
GHZ37_S4_LO = [-0.49, -0.43, -0.38, -0.36, -0.35, -0.38, -0.42, -0.46, -0.5, -0.53, -0.54,
               -0.52, -0.49, -0.5, -0.52, -0.56, -0.62, -0.69, -0.76, -0.82, -0.87]

PANELS = [
    [(LAGS, BB_S1, BB_S1_ERR, BB_S1_UP, BB_S1_LO), (LAGS, BB_S2, BB_S2_ERR, BB_S2_UP, BB_S2_LO),
     (LAGS, BB_S3, BB_S3_ERR, BB_S3_UP, BB_S3_LO), (LAGS, BB_S4, BB_S4_ERR, BB_S4_UP, BB_S4_LO)],
    [(LAGS, BV_S1, BV_S1_ERR, BV_S1_UP, BV_S1_LO), (LAGS, BV_S2, BV_S2_ERR, BV_S2_UP, BV_S2_LO),
     (LAGS, BV_S3, BV_S3_ERR, BV_S3_UP, BV_S3_LO), (LAGS, BV_S4, BV_S4_ERR, BV_S4_UP, BV_S4_LO)],
    [(LAGS, JK_S1, JK_S1_ERR, JK_S1_UP, JK_S1_LO), (LAGS, JK_S2, JK_S2_ERR, JK_S2_UP, JK_S2_LO),
     (LAGS, JK_S3, JK_S3_ERR, JK_S3_UP, JK_S3_LO), (LAGS, JK_S4, JK_S4_ERR, JK_S4_UP, JK_S4_LO)],
    [(LAGS, RJ_S1, RJ_S1_ERR, RJ_S1_UP, RJ_S1_LO), (LAGS, RJ_S2, RJ_S2_ERR, RJ_S2_UP, RJ_S2_LO),
     (LAGS, RJ_S3, RJ_S3_ERR, RJ_S3_UP, RJ_S3_LO), (LAGS, RJ_S4, RJ_S4_ERR, RJ_S4_UP, RJ_S4_LO)],
    [(LAGS_37GHZ_S1, GHZ37_S1, GHZ37_S1_ERR, GHZ37_S1_UP, GHZ37_S1_LO),
     (LAGS, GHZ37_S2, GHZ37_S2_ERR, GHZ37_S2_UP, GHZ37_S2_LO),
     (LAGS, GHZ37_S3, GHZ37_S3_ERR, GHZ37_S3_UP, GHZ37_S3_LO),
     (LAGS, GHZ37_S4, GHZ37_S4_ERR, GHZ37_S4_UP, GHZ37_S4_LO)],
]

# ---------------- layout geometry ----------------
W, H = 830, 506
COL_LEFT = [43, 245, 447, 649]
PANEL_W = 168
ROW_TOP = [19, 111, 203, 295, 387]
PANEL_H = 86
FONT = "DejaVu Sans"

fig = go.Figure()
layout = dict(width=W, height=H, autosize=False,
              margin=dict(l=0, r=0, t=0, b=0),
              paper_bgcolor="white", plot_bgcolor="white",
              showlegend=False, hovermode=False,
              font=dict(family=FONT, color="black"))
annotations = []

for r in range(5):
    for c in range(4):
        k = r * 4 + c + 1
        xa = "x" if k == 1 else f"x{k}"
        ya = "y" if k == 1 else f"y{k}"
        lags, vals, errs, up, lo = PANELS[r][c]

        for band in (up, lo):
            fig.add_trace(go.Scatter(
                x=BAND_LAGS, y=band, xaxis=xa, yaxis=ya, mode="lines",
                line=dict(color="#ff0000", width=1.5, dash="5px,2.5px", shape="spline"),
                hoverinfo="skip"))

        fig.add_trace(go.Scatter(
            x=lags, y=vals, xaxis=xa, yaxis=ya, mode="lines+markers",
            line=dict(color="black", width=2),
            marker=dict(color="black", size=4.5),
            error_y=dict(type="data", array=errs, visible=True,
                         color="rgba(30,30,30,0.75)", thickness=1, width=0)))

        peak = PEAK_LAGS[r][c]
        if peak is not None:
            fig.add_trace(go.Scatter(
                x=[peak, peak], y=[-1, 1], xaxis=xa, yaxis=ya, mode="lines",
                line=dict(color="black", width=1.5, dash="4px,2px"),
                hoverinfo="skip"))

        x0 = COL_LEFT[c] / W
        x1 = (COL_LEFT[c] + PANEL_W) / W
        y1 = 1 - ROW_TOP[r] / H
        y0 = 1 - (ROW_TOP[r] + PANEL_H) / H
        axis_style = dict(showline=True, mirror=True, linecolor="black", linewidth=0.8,
                          ticks="outside", ticklen=3, tickwidth=0.8, tickcolor="black",
                          showgrid=False, zeroline=False, fixedrange=True,
                          tickfont=dict(family=FONT, size=7.5, color="black"))
        layout["xaxis" if k == 1 else f"xaxis{k}"] = dict(
            domain=[x0, x1], range=[-150, 150], anchor=ya,
            tickmode="array", tickvals=X_TICKS,
            ticktext=X_TICK_LABELS if r == 4 else [""] * len(X_TICKS),
            **axis_style)
        yt = Y_TICKS if r == 0 else Y_TICKS[:-1]
        ytt = Y_TICK_LABELS if r == 0 else Y_TICK_LABELS[:-1]
        layout["yaxis" if k == 1 else f"yaxis{k}"] = dict(
            domain=[y0, y1], range=[-1, 1], anchor=xa,
            tickmode="array", tickvals=yt, ticktext=ytt,
            **axis_style)

# titles and axis labels
for c, name in enumerate(SEGMENTS):
    annotations.append(dict(text=name, x=(COL_LEFT[c] + PANEL_W / 2) / W, y=1 - 11 / H,
                            xref="paper", yref="paper", xanchor="center", yanchor="middle",
                            showarrow=False, font=dict(family=FONT, size=13.7, color="black")))
    annotations.append(dict(text="Time Lag (days)", x=(COL_LEFT[c] + PANEL_W / 2) / W,
                            y=1 - 494 / H, xref="paper", yref="paper",
                            xanchor="center", yanchor="middle", showarrow=False,
                            font=dict(family=FONT, size=12.3, color="black")))
for r, name in enumerate(PAIRS):
    annotations.append(dict(text=name, x=10.5 / W, y=1 - (ROW_TOP[r] + PANEL_H / 2) / H,
                            xref="paper", yref="paper", xanchor="center", yanchor="middle",
                            textangle=-90, showarrow=False,
                            font=dict(family=FONT, size=13.5, color="black")))

layout["annotations"] = annotations
fig.update_layout(**layout)
fig.write_html("out.html",
               config={"displayModeBar": False, "staticPlot": True},
               post_script="document.body.style.margin='0px';"
                           "document.body.style.overflow='hidden';")
